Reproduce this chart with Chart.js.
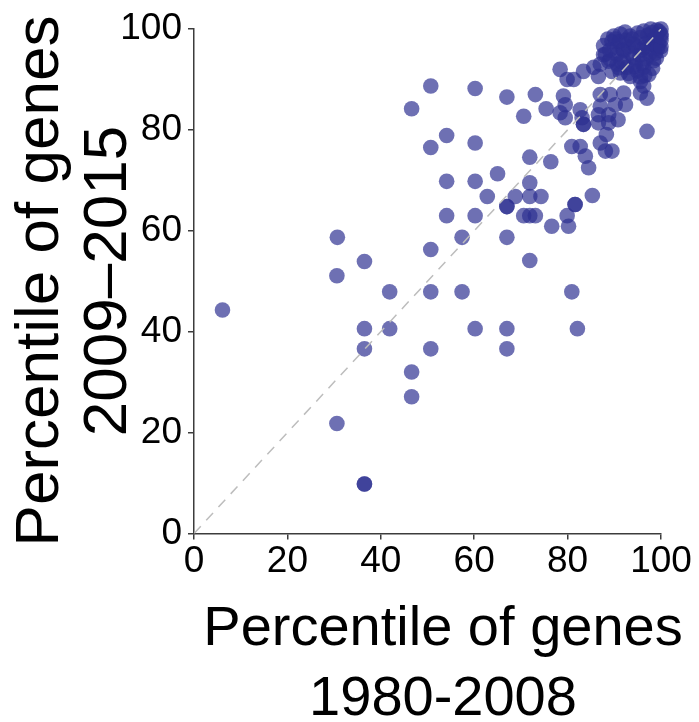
<!DOCTYPE html>
<html>
<head>
<meta charset="utf-8">
<title>Percentile of genes</title>
<script src="https://cdn.jsdelivr.net/npm/chart.js@4/dist/chart.umd.min.js"></script>
<style>
  html, body { margin: 0; padding: 0; background: #fff; }
  canvas { display: block; }
</style>
</head>
<body>
<canvas id="plot" width="699" height="722"></canvas>
<script>
// percentile 1980-2008 (x) and 2009-2015 (y), one entry per gene
const pct1980 = [
  6.1, 30.6, 30.7, 30.6, 36.5, 36.5, 36.5, 36.5, 36.5, 41.9,
  41.9, 46.6, 46.6, 46.6, 50.7, 50.7, 50.7, 50.7, 50.7, 54.1,
  54.1, 54.1, 57.4, 57.4, 60.2, 60.2, 60.2, 60.2, 60.2, 62.8,
  65.0, 67.0, 67.0, 67.0, 67.0, 67.0, 67.0, 68.8, 70.6, 70.6,
  71.9, 71.9, 71.9, 71.9, 71.9, 73.1, 73.1, 74.3, 75.4, 76.6,
  76.4, 79.9, 80.2, 80.9, 82.1, 81.6, 81.6, 85.3,
  78.4, 79.9, 81.3, 83.4, 86.6, 79.1, 79.5, 78.4, 79.5, 82.7,
  83.1, 83.4, 83.4, 87.0, 89.1, 92.0, 92.4, 90.2, 87.0, 86.6,
  88.8, 90.8, 86.6, 88.8, 88.3, 87.0, 88.1, 89.5, 80.9, 82.7,
  83.8, 84.5, 97.0, 95.6, 97.0, 96.3, 95.6, 93.4, 91.3, 89.5,
  88.8, 87.7,
  100, 99.1, 98.1, 96.3, 95.6, 93.4, 91.3, 89.9, 88.6, 87.7,
  88.1, 89.1, 90.6, 92.7, 94.9, 96.3, 98.4, 99.9, 100, 85.6,
  87.0, 92.0, 94.1, 96.3, 97.7, 94.1, 90.6, 92.0, 99.0, 97.5,
  95.5, 93.0, 98.5, 97.4, 95.6, 91.0, 99.5, 100, 98.8, 96.8,
  89.5, 90.5, 91.5, 92.5, 93.5, 94.5, 95.0, 95.8, 96.8, 97.2,
  97.9, 98.6, 99.3, 99.6, 98.2, 96.5, 94.2, 93.0, 91.8, 90.2,
  92.3, 97.8, 99.0, 96.0, 94.8, 93.8, 91.0, 89.0, 100, 100
];
const pct2009 = [
  44.3, 51.1, 58.7, 21.8, 53.9, 40.6, 36.6, 9.8, 9.8, 47.9,
  40.6, 32.0, 27.1, 84.2, 56.3, 47.9, 36.6, 76.5, 88.7, 63.0,
  69.8, 78.9, 47.9, 58.7, 63.0, 69.8, 77.4, 88.2, 40.6, 66.8,
  71.3, 64.8, 64.8, 58.7, 40.6, 36.6, 86.5, 66.8, 63.0, 82.7,
  69.5, 66.8, 63.0, 54.1, 74.6, 63.0, 87.0, 66.8, 84.2, 60.9,
  73.7, 63.0, 60.9, 47.9, 40.6, 65.2, 65.2, 67.0,
  92.0, 90.0, 90.0, 91.6, 90.6, 86.7, 85.0, 83.4, 82.4, 84.0,
  82.4, 81.1, 81.1, 87.0, 87.0, 87.3, 85.0, 85.0, 84.7, 83.0,
  83.0, 82.0, 81.4, 81.4, 79.1, 77.4, 75.8, 75.8, 76.7, 76.7,
  74.8, 72.5, 79.7, 87.3, 86.3, 88.7, 89.6, 90.6, 91.3, 91.6,
  93.6, 94.9,
  100, 99.8, 99.3, 99.6, 98.3, 98.6, 99.0, 98.6, 98.0, 96.7,
  95.0, 94.0, 93.0, 92.4, 91.7, 92.4, 93.7, 95.7, 97.7, 92.4,
  93.0, 95.7, 97.0, 96.3, 97.7, 94.3, 96.3, 93.7, 98.5, 95.0,
  94.8, 96.5, 96.8, 91.0, 90.5, 97.5, 97.0, 99.0, 95.2, 97.2,
  97.5, 95.0, 93.5, 97.8, 95.2, 93.0, 99.2, 95.8, 94.0, 98.8,
  96.2, 97.9, 96.2, 99.5, 92.2, 90.8, 92.5, 91.2, 96.0, 98.0,
  99.4, 100, 94.2, 93.2, 96.4, 98.0, 92.3, 95.8, 96.5, 98.5
];
const axisTicks = [0, 20, 40, 60, 80, 100];
const diagonal = [0, 100];

const genes = pct1980.map((x, i) => ({ x: x, y: pct2009[i] }));
const diagPts = diagonal.map(v => ({ x: v, y: v }));

const axisColor = '#3c3c3c';
const tickFont = { family: 'Liberation Sans, Arial, sans-serif', size: 37 };

// axis titles, two lines each
const titles = {
  id: 'titles',
  afterDraw(chart) {
    const ctx = chart.ctx;
    ctx.save();
    ctx.fillStyle = '#000';
    ctx.textAlign = 'center';
    ctx.textBaseline = 'alphabetic';
    ctx.font = '56px Liberation Sans, Arial, sans-serif';
    ctx.fillText('Percentile of genes', 443, 645);
    ctx.fillText('1980-2008', 443, 715);
    ctx.font = '62px Liberation Sans, Arial, sans-serif';
    ctx.translate(0, 281);
    ctx.rotate(-Math.PI / 2);
    ctx.fillText('Percentile of genes', 0, 58);
    ctx.fillText('2009\u20132015', 0, 126);
    ctx.restore();
  }
};

new Chart(document.getElementById('plot'), {
  type: 'scatter',
  data: {
    datasets: [
      {
        type: 'line',
        data: diagPts,
        borderColor: '#bdbdbd',
        borderWidth: 1.5,
        borderDash: [10, 8],
        pointRadius: 0,
        fill: false,
        order: 0
      },
      {
        data: genes,
        backgroundColor: 'rgba(45,48,145,0.69)',
        borderWidth: 0,
        pointRadius: 7.8,
        pointHoverRadius: 7.8,
        clip: false,
        order: 1
      }
    ]
  },
  plugins: [titles],
  options: {
    responsive: false,
    animation: false,
    layout: { padding: { top: 29, right: 38, left: 0, bottom: 0 } },
    plugins: { legend: { display: false }, tooltip: { enabled: false } },
    scales: {
      x: {
        type: 'linear',
        min: 0, max: 100,
        afterFit: s => { s.height = 188.5; },
        afterBuildTicks: s => { s.ticks = axisTicks.map(v => ({ value: v })); },
        border: { display: true, color: axisColor, width: 1.5 },
        grid: { display: true, drawOnChartArea: false, drawTicks: true, tickLength: 6, color: axisColor, lineWidth: 1.5 },
        ticks: { color: '#000', font: tickFont, padding: 0, maxRotation: 0 }
      },
      y: {
        type: 'linear',
        min: 0, max: 100,
        afterFit: s => { s.width = 194; },
        afterBuildTicks: s => { s.ticks = axisTicks.map(v => ({ value: v })); },
        border: { display: true, color: axisColor, width: 1.5 },
        grid: { display: true, drawOnChartArea: false, drawTicks: true, tickLength: 6, color: axisColor, lineWidth: 1.5 },
        ticks: { color: '#000', font: tickFont, padding: 6 }
      }
    }
  }
});
</script>
</body>
</html>
